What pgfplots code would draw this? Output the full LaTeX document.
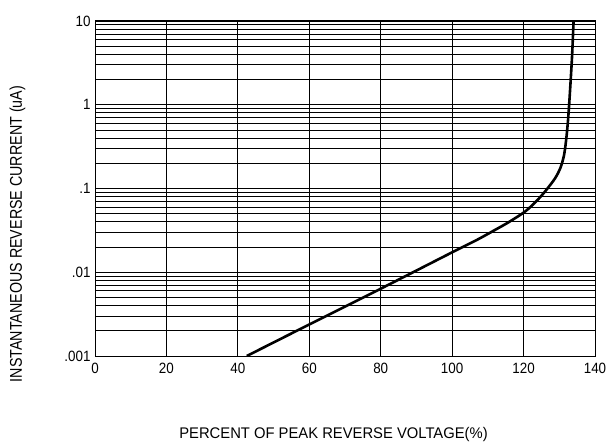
\documentclass[border=0pt]{standalone}
\usepackage{pgfplots}
\pgfplotsset{compat=1.18}
\usepackage{fontspec}
\setmainfont{Liberation Sans}
\newfontfamily\tickfont[FakeStretch=0.9]{Liberation Sans}
\newfontfamily\ylabfont[FakeStretch=0.84]{Liberation Sans}
\newfontfamily\xlabfont[FakeStretch=0.96]{Liberation Sans}
\begin{document}
\begin{tikzpicture}
\path[use as bounding box] (-95pt,-90pt) rectangle (517pt,356pt);
\begin{axis}[
  scale only axis,
  width=500pt, height=335pt,
  xmin=0, xmax=140,
  ymode=log, ymin=0.001, ymax=10,
  xtick={0,20,40,60,80,100,120,140},
  xticklabels={0,20,40,60,80,100,120,140},
  ytick={0.001,0.01,0.1,1,10},
  yticklabels={.001,.01,.1,1,10},
  minor ytick={0.002,0.003,0.004,0.005,0.006,0.007,0.008,0.009,
               0.02,0.03,0.04,0.05,0.06,0.07,0.08,0.09,
               0.2,0.3,0.4,0.5,0.6,0.7,0.8,0.9,
               2,3,4,5,6,7,8,9},
  grid=both,
  major grid style={black, line width=0.9pt},
  minor grid style={black, line width=0.8pt},
  axis line style={black, line width=1pt},
  major tick length=0pt, minor tick length=0pt,
  tick label style={font=\tickfont\fontsize{14.9}{17}\selectfont},
  xticklabel style={yshift=-4pt},
  yticklabel style={xshift=-1pt},
]
\addplot[black, line width=2.6pt, smooth, tension=0.5] coordinates {
(42.5,0.001) (60,0.00238) (80,0.00636) (100,0.0173) (106.9,0.0243)
(112,0.032) (116,0.040) (120.4,0.053) (123.5,0.070) (126,0.092)
(128.8,0.132) (130.4,0.18) (131.4,0.26) (132.1,0.45) (132.6,0.8)
(133.2,2) (133.6,4) (134,10)
};
\end{axis}
\node[rotate=90, font=\ylabfont\fontsize{17}{20}\selectfont] at (-77.5pt,122pt) {INSTANTANEOUS REVERSE CURRENT (uA)};
\node[font=\xlabfont\fontsize{15.4}{18}\selectfont] at (238.5pt,-79pt) {PERCENT OF PEAK REVERSE VOLTAGE(\%)};
\end{tikzpicture}
\end{document}
